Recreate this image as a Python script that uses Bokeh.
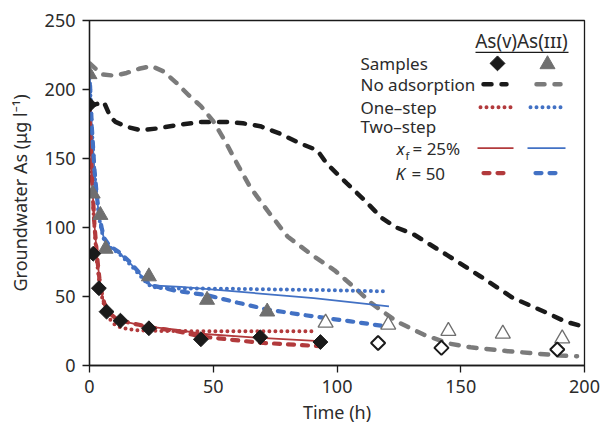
import math
from bokeh.plotting import figure
from bokeh.models import Range1d
from bokeh.core.properties import value
from bokeh.embed import file_html
from bokeh.resources import INLINE

FONT = "Noto Sans"

# ---------------- data ----------------
# As(V) samples (filled = used in fit, open = later samples)
samp_v_t = [0, 1.5, 3.8, 6.9, 12.5, 24, 45, 69, 93.3]
samp_v_c = [189, 81, 56, 39, 32.5, 27, 19, 20.5, 17]
samp_v_open_t = [116.6, 142.2, 189]
samp_v_open_c = [16.3, 12.8, 11.6]

# As(III) samples
samp_iii_t = [0, 1.3, 4.4, 6.5, 24, 47.5, 71.8]
samp_iii_c = [211, 124.5, 109, 84.5, 64.5, 47.5, 39]
samp_iii_open_t = [95.4, 120.7, 145, 167, 191]
samp_iii_open_c = [31, 29.5, 25, 23, 19.5]

# No adsorption model
noads_v_t = [0, 2, 5.8, 8.5, 10.5, 15, 20.6, 27, 34.7, 45, 55, 62, 69, 77, 85, 92, 96,
             104, 111, 118, 124, 131, 144.5, 158, 171, 185, 192, 200]
noads_v_c = [188, 189, 191, 180, 176.5, 173, 170.5, 171.7, 174, 176.5, 176.5, 175.5, 173.4,
             168, 161, 156, 146, 132, 120, 107, 100, 95, 80, 64.5, 49, 38, 32, 28]
noads_iii_t = [0, 5, 10, 15, 20, 25, 30, 35, 40, 45, 50, 55, 60, 65, 72, 80, 90, 99, 108,
               114, 124, 135, 145, 154, 169, 190, 197]
noads_iii_c = [219, 211, 210, 212, 215, 217, 213, 205, 196, 188, 177, 162, 145, 129, 112,
               93.5, 80, 69, 55, 45, 32, 22.4, 16, 13.2, 10.4, 7.2, 6.7]

# One-step model
one_v_t = [0, 0.5, 1, 1.5, 2, 3, 4, 5, 6, 7, 8, 10, 12, 15, 20, 30, 50, 70, 92]
one_v_c = [188, 160, 135, 115, 100, 75, 60, 50, 43, 38, 34, 30, 28, 26.5, 25.5, 25, 24.8, 24.8, 24.8]
one_iii_t = [0, 0.5, 1, 2, 3, 4, 5, 6, 8, 12, 16, 20, 23, 25, 30, 40, 60, 80, 100, 120]
one_iii_c = [213, 190, 170, 140, 120, 106, 97, 90, 86, 81, 74, 66, 60, 57, 56, 55.8, 55.5, 55, 54.5, 53.7]

# Two-step model, x_f = 25 %
xf_v_t = [0, 0.5, 1, 2, 3, 4, 5, 6, 8, 10, 12.5, 16, 20, 24.6, 35, 45, 69, 93]
xf_v_c = [188, 160, 135, 102, 80, 63, 52, 45, 38, 35, 33, 31, 29.5, 28, 26, 23, 20, 17.6]
xf_iii_t = [0, 0.5, 1, 2, 3, 4, 5, 6, 8, 12, 16, 20, 23, 25, 37, 60, 90.6, 121]
xf_iii_c = [213, 190, 170, 141, 121, 107, 98, 91, 86.5, 81.5, 75, 67, 61, 58, 57, 53.5, 48.8, 42.8]

# Two-step model, K = 50
k_v_t = [0, 0.5, 1, 2, 3, 4, 5, 6, 8, 10, 12.5, 16, 20, 25, 35, 45, 69, 93]
k_v_c = [188, 160, 135, 102, 80, 63, 52, 45, 38, 35, 33, 31, 29.5, 27.5, 25, 21, 16.5, 14]
k_iii_t = [0, 0.5, 1, 2, 3, 4, 5, 6, 8, 12, 16, 20, 23, 25, 35.4, 47.5, 60, 72, 85, 95, 105.5, 121]
k_iii_c = [213, 191, 171, 142, 122, 108, 99, 92, 87, 82, 75.5, 67.5, 61, 58, 54, 51, 45.5, 40.5, 37, 34.5, 32, 28]

x_ticks = [0, 50, 100, 150, 200]
y_ticks = [0, 50, 100, 150, 200, 250]

BLACK = "#1a1a1a"
GRAY = "#7b7b7b"
TRI = "#6f6f6f"
RED = "#b23a3c"
BLUE = "#4271c4"
TXT = "#2b2b2b"

p = figure(width=603, height=426, x_range=Range1d(0, 200), y_range=Range1d(0, 250),
           output_backend="svg", toolbar_location=None,
           min_border_left=89, min_border_right=19, min_border_top=20, min_border_bottom=60)
p.background_fill_color = "white"
p.border_fill_color = "white"
p.outline_line_color = BLACK
p.outline_line_width = 1.3
p.xgrid.visible = False
p.ygrid.visible = False

for ax in (p.xaxis[0], p.yaxis[0]):
    ax.axis_line_color = BLACK
    ax.axis_line_width = 1.3
    ax.major_tick_line_color = BLACK
    ax.major_tick_line_width = 1.3
    ax.major_tick_out = 7
    ax.major_tick_in = 0
    ax.minor_tick_out = 0
    ax.minor_tick_in = 0
    ax.major_label_text_font = FONT
    ax.major_label_text_font_size = "18px"
    ax.major_label_text_color = TXT
    ax.axis_label_text_font = FONT
    ax.axis_label_text_font_size = "18px"
    ax.axis_label_text_font_style = "normal"
    ax.axis_label_text_color = TXT

p.xaxis.ticker = x_ticks
p.yaxis.ticker = y_ticks
p.xaxis.axis_label = "Time (h)"
p.yaxis.axis_label = "Groundwater As (μg l⁻¹)"
p.xaxis.major_label_standoff = 7
p.yaxis.major_label_standoff = 7
p.xaxis.axis_label_standoff = 4
p.yaxis.axis_label_standoff = 10

# ---------------- model curves ----------------
p.line(noads_v_t, noads_v_c, line_color=BLACK, line_width=4.5, line_dash="8 10", line_cap="round")
p.line(noads_iii_t, noads_iii_c, line_color=GRAY, line_width=4.5, line_dash="8 10", line_cap="round")
p.line(one_v_t, one_v_c, line_color=RED, line_width=4, line_dash="0 6", line_cap="round")
p.line(one_iii_t, one_iii_c, line_color=BLUE, line_width=4, line_dash="0 6", line_cap="round")
p.line(xf_v_t, xf_v_c, line_color=RED, line_width=1.8)
p.line(xf_iii_t, xf_iii_c, line_color=BLUE, line_width=1.8)
p.line(k_v_t, k_v_c, line_color=RED, line_width=4.2, line_dash="6 8", line_cap="round")
p.line(k_iii_t, k_iii_c, line_color=BLUE, line_width=4.2, line_dash="6 8", line_cap="round")

# ---------------- samples ----------------
p.scatter(samp_iii_t, samp_iii_c, marker="triangle", size=15, fill_color=TRI, line_color=TRI)
p.scatter(samp_iii_open_t, samp_iii_open_c, marker="triangle", size=15, fill_color="white",
          line_color=TRI, line_width=1.3)
p.scatter(samp_v_t, samp_v_c, marker="square", angle=math.pi / 4, size=10.5,
          fill_color=BLACK, line_color=BLACK)
p.scatter(samp_v_open_t, samp_v_open_c, marker="square", angle=math.pi / 4, size=10,
          fill_color="white", line_color=BLACK, line_width=2)

# ---------------- legend (placed by pixel position) ----------------
def X(px):
    return (px - 89) * 200.0 / 495.0

def Y(py):
    return (366 - py) * 250.0 / 346.0

def txt(px, py, s, size="17px", style="normal", align="left"):
    p.text([X(px)], [Y(py)], text=[s], text_font=value(FONT), text_font_size=value(size),
           text_font_style=style, text_color=TXT, text_align=align, text_baseline="middle")

def seg(x0, x1, py, color, width, dash="solid", cap="butt"):
    p.line([X(x0), X(x1)], [Y(py), Y(py)], line_color=color, line_width=width,
           line_dash=dash, line_cap=cap)

txt(521, 41, "As(ᴠ)As(ɪɪɪ)", size="19px", align="center")
seg(475, 568, 52, BLACK, 1.3)

txt(360, 63, "Samples")
p.scatter([X(497)], [Y(63)], marker="square", angle=math.pi / 4, size=10.5,
          fill_color=BLACK, line_color=BLACK)
p.scatter([X(547)], [Y(64)], marker="triangle", size=15, fill_color=TRI, line_color=TRI)

txt(360, 84, "No adsorption")
seg(483, 506, 84, BLACK, 4.5, "8 10", "round")
seg(536, 560, 84, GRAY, 4.5, "8 10", "round")

txt(360, 107, "One–step")
seg(480, 513, 107, RED, 4, "0 6", "round")
seg(530, 563, 107, BLUE, 4, "0 6", "round")

txt(360, 126, "Two–step")

txt(396, 148, "x", style="italic")
txt(405, 155, "f", size="11px")
txt(412, 148, "= 25%")
seg(477, 513, 148, RED, 1.8)
seg(527, 565, 148, BLUE, 1.8)

txt(395, 173, "K", style="italic")
txt(411, 173, "= 50")
seg(483, 506, 173, RED, 4.2, "6 8", "round")
seg(535, 558, 173, BLUE, 4.2, "6 8", "round")

open("out.html", "w").write(file_html(p, INLINE))
